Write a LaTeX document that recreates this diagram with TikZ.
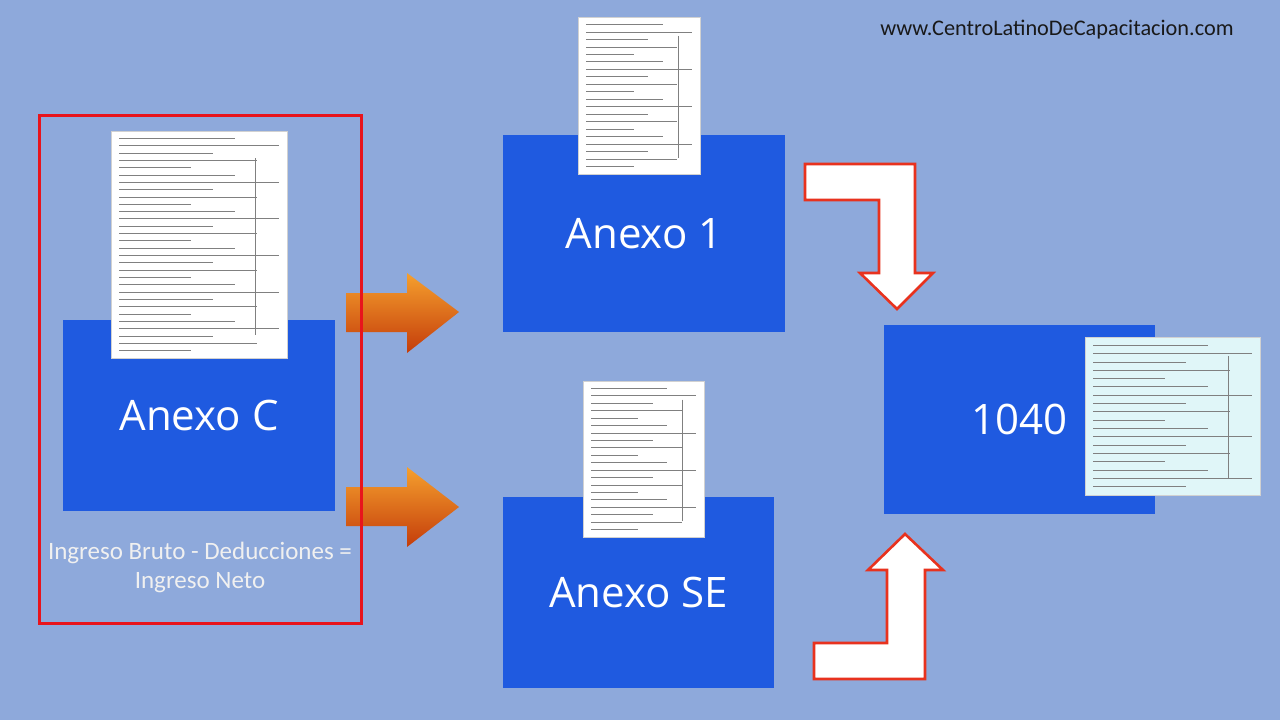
\documentclass[tikz,border=0pt]{standalone}
\usepackage{fontspec}
\setmainfont{Carlito}
\newfontfamily\labelfont{Open Sans}
\definecolor{bgblue}{HTML}{8EA9DB}
\definecolor{boxblue}{HTML}{1F5AE0}
\definecolor{framered}{HTML}{E8141C}
\definecolor{arrowred}{HTML}{E8321E}
\definecolor{arrowtop}{HTML}{F5A02E}
\definecolor{arrowbot}{HTML}{C43C0A}
\definecolor{formcyan}{HTML}{E0F6F8}

\tikzset{
  annexbox/.style={fill=boxblue, inner sep=0pt, text=white, font=\labelfont\fontsize{42}{50}\selectfont},
  formsheet/.style={fill=white, draw=black!18, line width=0.8pt, inner sep=0pt},
  formline/.style={black!50, line width=0.8pt},
  bentarrow/.style={fill=white, draw=arrowred, line width=2.6pt, line join=miter},
  orangearrow/.style={top color=arrowtop, bottom color=arrowbot}
}

% rows of small print on a form: x0, y0, width, height, rows
\newcommand\formrows[5]{%
  \foreach \k in {1,...,#5}{%
    \pgfmathsetmacro\rowy{#2+#4*\k/(#5+1)}
    \pgfmathsetmacro\rowend{#1+8+(#3-16)*(0.45+0.55*mod(\k*7,5)/4)}
    \draw[formline] (#1+8,\rowy) -- (\rowend,\rowy);
  }%
  \draw[formline] (#1+#3*0.82,#2+#4*0.12) -- (#1+#3*0.82,#2+#4*0.9);
}

\begin{document}
\begin{tikzpicture}[x=1pt,y=-1pt]
\useasboundingbox (0,0) rectangle (1280,720);
\fill[bgblue] (0,0) rectangle (1280,720);

\node[text=black!90, font=\fontsize{22.3}{26}\selectfont] (url) at (1057,30) {www.CentroLatinoDeCapacitacion.com};

% schedules
\node[annexbox, minimum width=272, minimum height=191] (anexoc) at (199,415.5) {Anexo C};
\node[annexbox, minimum width=282, minimum height=197] (anexo1) at (644,233.5) {\raisebox{-2pt}{Anexo 1}};
\node[annexbox, minimum width=271, minimum height=191] (anexose) at (638.5,592.5) {\raisebox{-2pt}{Anexo SE}};
\node[annexbox, minimum width=271, minimum height=189] (f1040) at (1019.5,419.5) {1040};

% forms
\node[formsheet, minimum width=176, minimum height=227] (formc) at (199,244.5) {};
\formrows{111}{131}{176}{227}{30}
\node[formsheet, minimum width=122, minimum height=157] (form1) at (639,95.5) {};
\formrows{578}{17}{122}{157}{20}
\node[formsheet, minimum width=121, minimum height=156] (formse) at (643.5,459) {};
\formrows{583}{381}{121}{156}{20}
\node[formsheet, fill=formcyan, minimum width=175, minimum height=158] (form1040) at (1172.5,416) {};
\formrows{1085}{337}{175}{158}{18}

% orange arrows
\shade[orangearrow] (346,293) -- (407,293) -- (407,273) -- (459,312) -- (407,353) -- (407,332) -- (346,332) -- cycle;
\shade[orangearrow] (346,487) -- (407,487) -- (407,467) -- (459,507) -- (407,547) -- (407,526) -- (346,526) -- cycle;

\node[draw=framered, line width=3pt, minimum width=322, minimum height=508, inner sep=0pt] (frame) at (200,369) {};
\node[text=white!94!black, font=\fontsize{25}{29}\selectfont, align=center] (note) at (200,567) {Ingreso Bruto - Deducciones =\\Ingreso Neto};

% bent arrows into 1040
\draw[bentarrow] (805,164) -- (915,164) -- (915,273) -- (933,273) -- (897,309) -- (860,273) -- (879,273) -- (879,200) -- (805,200) -- cycle;
\draw[bentarrow] (814,679) -- (925,679) -- (925,570) -- (943,570) -- (905,534) -- (868,570) -- (887,570) -- (887,643) -- (814,643) -- cycle;
\end{tikzpicture}
\end{document}
